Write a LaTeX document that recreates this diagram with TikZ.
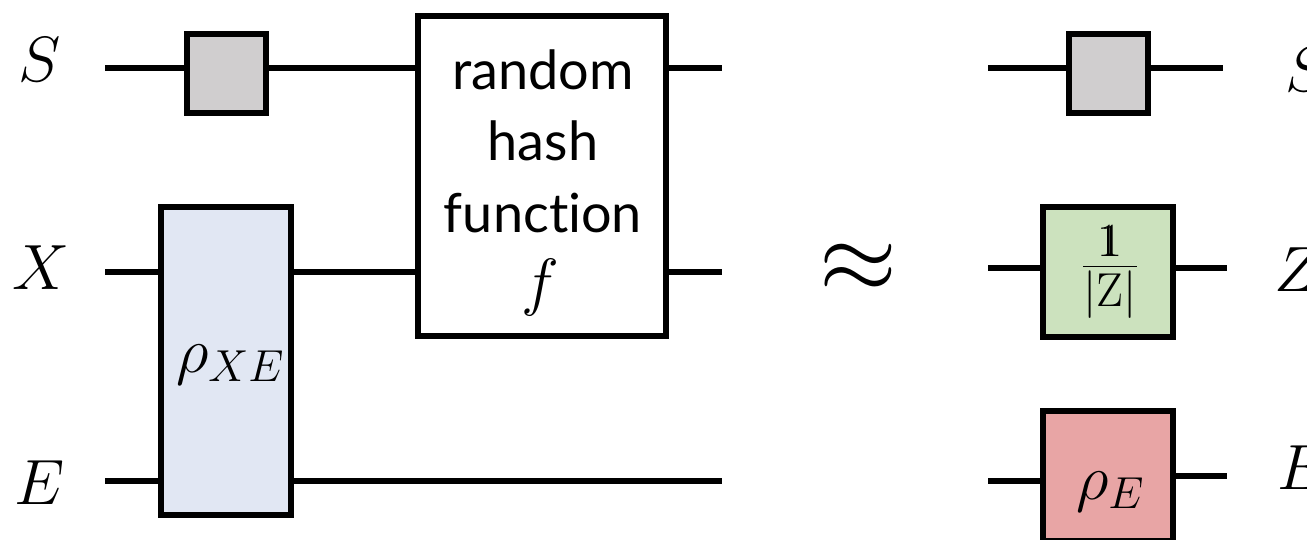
\RequirePackage{fix-cm}
\documentclass[tikz,border=0pt]{standalone}
\usepackage{fontspec}
\newfontfamily\hashfont[Ligatures=NoCommon]{Lato}
\newcommand{\indic}{\mathrm{1\kern-0.36em 1}}
\definecolor{sgray}{HTML}{D0CECF}
\definecolor{rhoblue}{HTML}{E1E7F3}
\definecolor{zgreen}{HTML}{CCE2BE}
\definecolor{epink}{HTML}{E8A5A5}
\tikzset{
  gate/.style={draw=black, line width=6pt, inner sep=0pt, outer sep=0pt},
  wire/.style={line width=6pt},
  lbl/.style={anchor=base west, inner sep=0pt, font=\fontsize{64}{70}\selectfont},
  intext/.style={anchor=base, inner sep=0pt, font=\fontsize{64}{70}\selectfont},
  hashtext/.style={anchor=base, inner sep=0pt, font=\hashfont\fontsize{54}{60}\selectfont}
}
\begin{document}
\begin{tikzpicture}[x=1pt,y=-1pt]
\useasboundingbox (0,0) rectangle (1307,540);
% left side gates
\node[gate, fill=sgray, minimum width=79pt, minimum height=79pt] (sboxL) at (226.5,73.5) {};
\node[gate, fill=white, minimum width=248pt, minimum height=320pt] (hash) at (542,176) {};
\node[gate, fill=rhoblue, minimum width=130pt, minimum height=308pt] (rho) at (226,361) {};
% right side gates
\node[gate, fill=sgray, minimum width=79pt, minimum height=79pt] (sboxR) at (1108.5,73.5) {};
\node[gate, fill=zgreen, minimum width=130pt, minimum height=130pt] (zbox) at (1108,272) {};
\node[gate, fill=epink, minimum width=130pt, minimum height=130pt] (ebox) at (1108,476) {};
% wire ends
\coordinate (inS) at (105,68);
\coordinate (inX) at (105,272);
\coordinate (inE) at (105,481);
\coordinate (outS) at (722,68);
\coordinate (outX) at (722,272);
\coordinate (outE) at (722,481);
\coordinate (rinS) at (988,68);
\coordinate (rinZ) at (988,268);
\coordinate (rinE) at (988,481);
\coordinate (routS) at (1223,68);
\coordinate (routZ) at (1227,268);
\coordinate (routE) at (1227,476);
% left wires
\draw[wire] (inS) -- (inS -| sboxL.west);
\draw[wire] (sboxL.east |- inS) -- (inS -| hash.west);
\draw[wire] (hash.east |- outS) -- (outS);
\draw[wire] (inX) -- (inX -| rho.west);
\draw[wire] (rho.east |- inX) -- (inX -| hash.west);
\draw[wire] (hash.east |- outX) -- (outX);
\draw[wire] (inE) -- (inE -| rho.west);
\draw[wire] (rho.east |- inE) -- (outE);
% right wires
\draw[wire] (rinS) -- (rinS -| sboxR.west);
\draw[wire] (sboxR.east |- routS) -- (routS);
\draw[wire] (rinZ) -- (rinZ -| zbox.west);
\draw[wire] (zbox.east |- routZ) -- (routZ);
\draw[wire] (rinE) -- (rinE -| ebox.west);
\draw[wire] (ebox.east |- routE) -- (routE);
% labels
\node[lbl] (lS) at (18,82) {$S$};
\node[lbl] (lX) at (12,290) {$X$};
\node[lbl] (lE) at (14,504) {$E$};
\node[lbl] (rS) at (1285,92) {$S$};
\node[lbl] (rZ) at (1274,291) {$Z$};
\node[lbl] (rE) at (1277,489) {$E$};
% texts inside gates
\node[hashtext] (t1) at (543,90) {random};
\node[hashtext] (t2) at (543,161) {hash};
\node[hashtext] (t3) at (543,233) {function};
\node[intext] (tf) at (540,303) {$f$};
\node[intext] (trho) at (230,372) {$\rho_{XE}$};
\node[intext, font=\fontsize{68}{74}\selectfont] (tz) at (1110,283) {$\frac{\indic}{|\mathrm{Z}|}$};
\node[intext] (te) at (1110,499) {$\rho_{E}$};
% approx
\node[inner sep=0pt, font=\fontsize{100}{110}\selectfont] (approx) at (858,268) {$\approx$};
\end{tikzpicture}
\end{document}
